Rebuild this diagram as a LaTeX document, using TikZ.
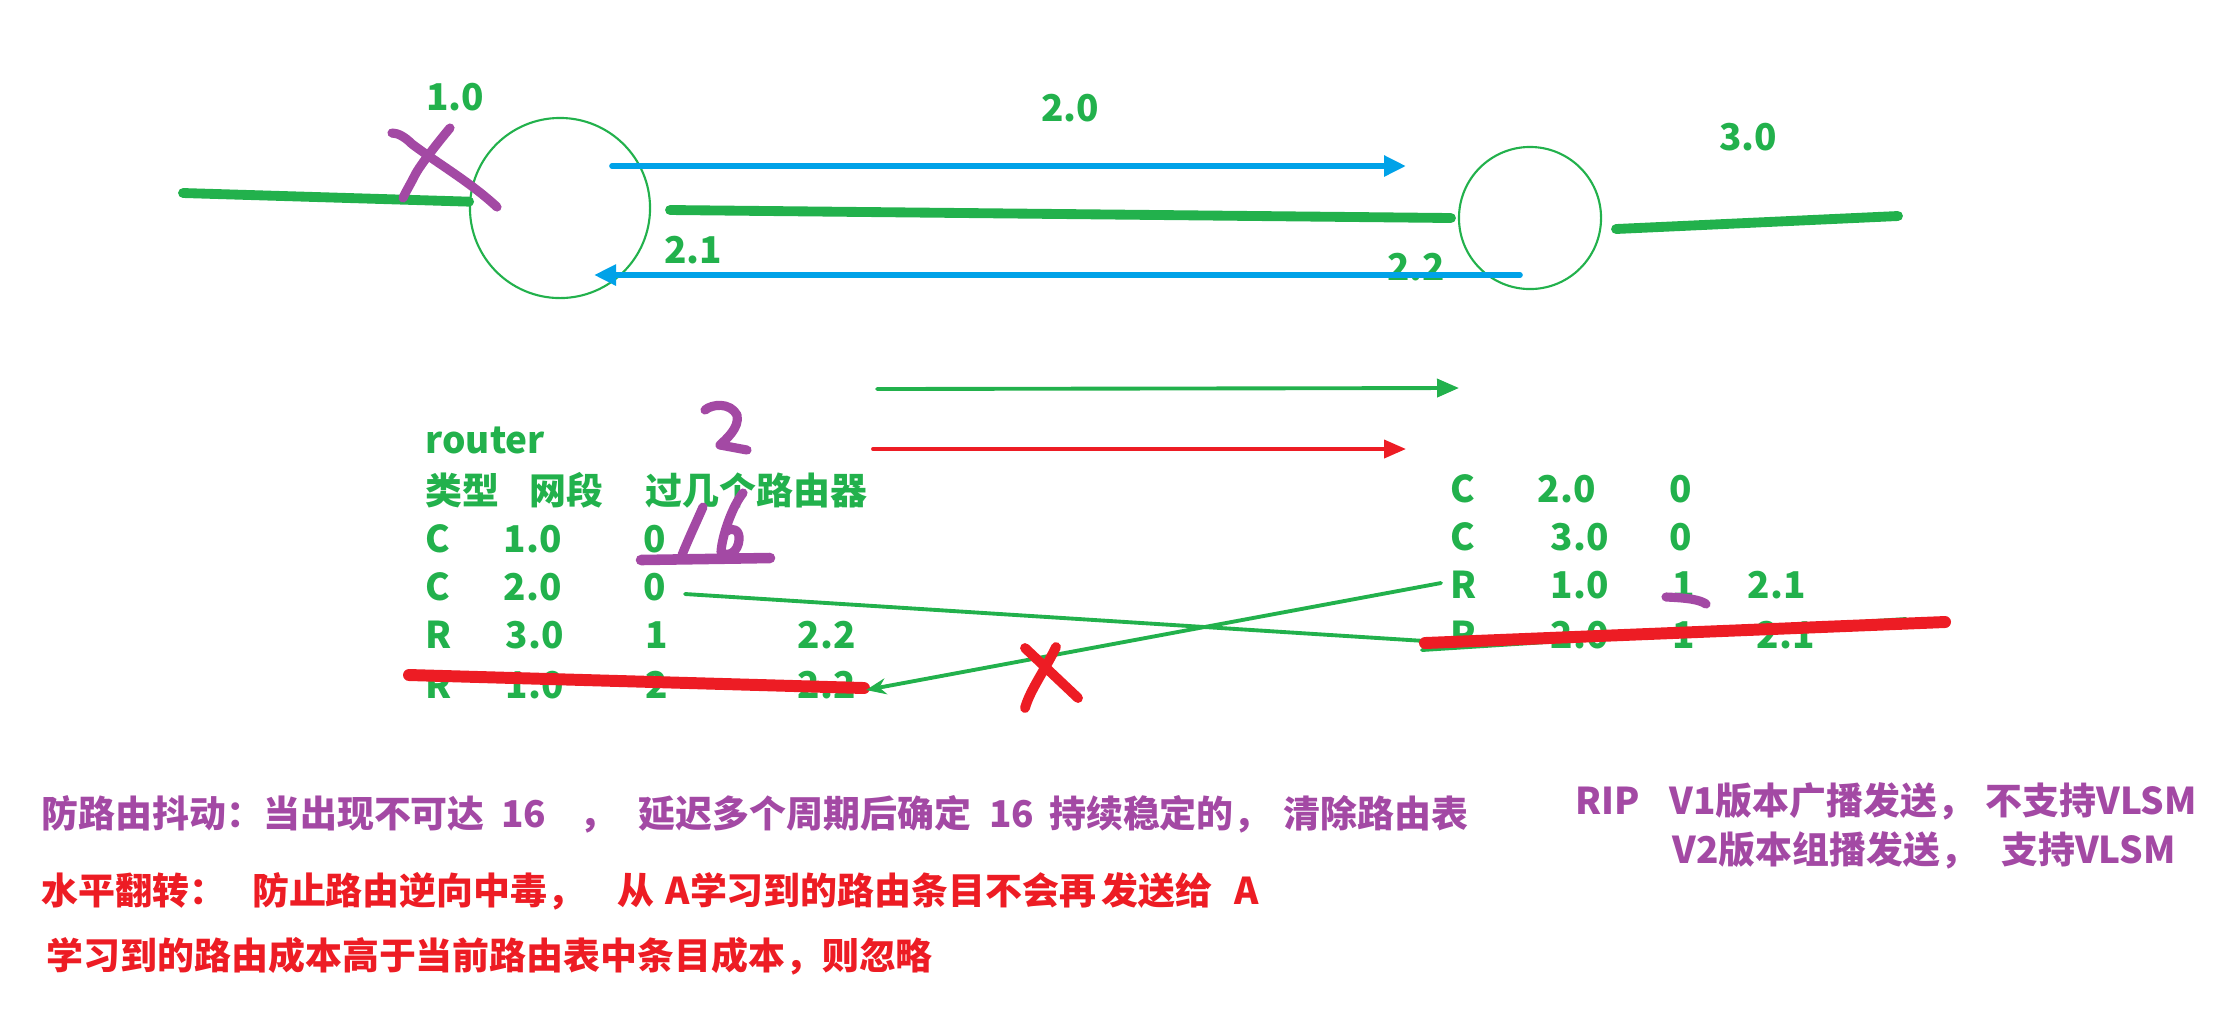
\documentclass[tikz,border=0pt]{standalone}
\usepackage{fontspec}
\setmainfont{Noto Sans CJK SC}
\usepackage{tikz}
\usetikzlibrary{arrows.meta,positioning,calc}

\definecolor{paintgreen}{RGB}{34,177,76}
\definecolor{paintblue}{RGB}{0,162,232}
\definecolor{paintred}{RGB}{237,28,36}
\definecolor{paintpurple}{RGB}{163,73,164}

\newcommand\txtsize{\bfseries\fontsize{10.5}{12}\selectfont}

\tikzset{
  router/.style={circle, draw=paintgreen, line width=0.6pt, inner sep=0pt},
  netline/.style={draw=paintgreen, line width=2.8pt, line cap=round},
  updarrow/.style={draw=paintblue, line width=1.6pt, line cap=round,
    -{Triangle[length=0.22cm,width=0.2cm]}},
  sendarrow/.style={line width=1.1pt, line cap=round,
    -{Triangle[length=0.22cm,width=0.18cm]}},
  tabtxt/.style={anchor=base west, inner sep=0pt, text=paintgreen, font=\txtsize},
  netlbl/.style={anchor=base, inner sep=0pt, text=paintgreen, font=\txtsize},
  remark/.style={anchor=base west, inner sep=0pt, font=\txtsize},
  scribble/.style={draw=paintpurple, line width=2.6pt, line cap=round, line join=round},
  strikeout/.style={draw=paintred, line width=3.4pt, line cap=round, line join=round}
}

\begin{document}
\begin{tikzpicture}[x=0.01cm, y=-0.01cm]
  \useasboundingbox (0,0) rectangle (2228,1008);

  % routers and networks
  \node[router, minimum size=1.8cm] (rA) at (560,208) {};
  \node[router, minimum size=1.42cm] (rB) at (1530,218) {};

  \coordinate (lanA) at (183,193);
  \coordinate (wanA) at (670,210);
  \coordinate (wanB) at (1451,218);
  \coordinate (lanB1) at (1616,229);
  \coordinate (lanB2) at (1898,216);
  \draw[netline] (lanA) -- (rA.176);
  \draw[netline] (wanA) -- (wanB);
  \draw[netline] (lanB1) -- (lanB2);

  \node[netlbl] (n10) at (455,110) {1.0};
  \node[netlbl] (n20) at (1070,121) {2.0};
  \node[netlbl] (n30) at (1748,150) {3.0};
  \node[netlbl] (n21) at (693,263) {2.1};
  \node[netlbl] (n22) at (1416,280) {2.2};

  % updates between the routers
  \coordinate (upA) at (612,166);
  \coordinate (upB) at (1406,166);
  \coordinate (downB) at (1520,275);
  \coordinate (downA) at (594,275);
  \draw[updarrow] (upA) -- (upB);
  \draw[updarrow] (downB) -- (downA);

  \coordinate (sendG1) at (877,389);
  \coordinate (sendG2) at (1459,388);
  \coordinate (sendR1) at (873,449);
  \coordinate (sendR2) at (1406,449);
  \draw[sendarrow, paintgreen] (sendG1) -- (sendG2);
  \draw[sendarrow, paintred] (sendR1) -- (sendR2);

  % table of router A
  \node[tabtxt] (aTitle) at (425,453) {router};
  \node[tabtxt] (aHd1) at (425,504) {类型};
  \node[tabtxt] (aHd2) at (529,504) {网段};
  \node[tabtxt] (aHd3) at (645,504) {过几个路由器};
  \node[tabtxt] (a1t) at (425,552) {C};
  \node[tabtxt] (a1n) at (503,552) {1.0};
  \node[tabtxt] (a1h) at (643,552) {0};
  \node[tabtxt] (a2t) at (425,600) {C};
  \node[tabtxt] (a2n) at (503,600) {2.0};
  \node[tabtxt] (a2h) at (643,600) {0};
  \node[tabtxt] (a3t) at (425,648) {R};
  \node[tabtxt] (a3n) at (505,648) {3.0};
  \node[tabtxt] (a3h) at (645,648) {1};
  \node[tabtxt] (a3g) at (797,648) {2.2};
  \node[tabtxt] (a4t) at (425,698) {R};
  \node[tabtxt] (a4n) at (505,698) {1.0};
  \node[tabtxt] (a4h) at (645,698) {2};
  \node[tabtxt] (a4g) at (797,698) {2.2};

  % table of router B
  \node[tabtxt] (b1t) at (1450,502) {C};
  \node[tabtxt] (b1n) at (1537,502) {2.0};
  \node[tabtxt] (b1h) at (1669,502) {0};
  \node[tabtxt] (b2t) at (1450,550) {C};
  \node[tabtxt] (b2n) at (1550,550) {3.0};
  \node[tabtxt] (b2h) at (1669,550) {0};
  \node[tabtxt] (b3t) at (1450,598) {R};
  \node[tabtxt] (b3n) at (1550,598) {1.0};
  \node[tabtxt] (b3h) at (1672,598) {1};
  \node[tabtxt] (b3g) at (1747,598) {2.1};
  \node[tabtxt] (b4t) at (1450,648) {R};
  \node[tabtxt] (b4n) at (1550,648) {2.0};
  \node[tabtxt] (b4h) at (1672,648) {1};
  \node[tabtxt] (b4g) at (1756,648) {2.1};

  % exchanged entries
  \coordinate (fromA) at (685,594);
  \coordinate (toB) at (1425,641);
  \coordinate (fromB) at (1441,583);
  \coordinate (toA) at (866,690);
  \coordinate (ulB1) at (1422,650);
  \coordinate (ulB2) at (1906,619);
  \draw[paintgreen, line width=1.1pt, line cap=round] (fromA) -- (toB);
  \draw[paintgreen, line width=1.1pt, line cap=round] (ulB1) -- (ulB2);
  \draw[strikeout] (409,675) -- (864,688);
  \draw[strikeout] (1425,643) -- (1945,622);
  \draw[paintgreen, line width=1.1pt, line cap=round,
    -{Stealth[length=0.2cm,width=0.16cm]}] (fromB) -- (toA);

  % hand marks
  \draw[scribble] (392,133) .. controls (398,133) and (405,137) .. (412,144)
    .. controls (440,165) and (470,182) .. (497,207);
  \draw[scribble] (450,128) .. controls (440,140) and (420,165) .. (415,175)
    .. controls (410,185) and (405,193) .. (403,198);
  \draw[scribble] (705,410) .. controls (712,404) and (730,402) .. (737,415)
    .. controls (740,428) and (725,440) .. (720,445) -- (747,450);
  \draw[scribble] (703,507) .. controls (695,525) and (688,540) .. (682,555);
  \draw[scribble] (743,493) .. controls (733,505) and (722,535) .. (721,552)
    .. controls (728,558) and (738,552) .. (739,540)
    .. controls (740,530) and (733,527) .. (727,531);
  \draw[scribble, line width=3pt] (641,560) -- (770,558);
  \draw[scribble] (1666,597) .. controls (1690,598) and (1700,600) .. (1706,604);
  \draw[strikeout, line width=2.8pt] (1025,648) -- (1078,698);
  \draw[strikeout, line width=2.8pt] (1056,647) .. controls (1045,670) and (1030,690) .. (1025,708);

  % notes
  \node[remark, text=paintpurple] (noteHold) at (41,827)
    {防路由抖动：当出现不可达\hspace{0.45em}16\hspace{0.9em}，\hspace{0.6em}延迟多个周期后确定\hspace{0.5em}16\hspace{0.4em}持续稳定的，\hspace{0.35em}清除路由表};
  \node[remark, text=paintred] (noteSplit) at (41,904)
    {水平翻转：\hspace{0.7em}防止路由逆向中毒，\hspace{0.9em}从\hspace{0.3em}A学习到的路由条目不会再\hspace{0.15em}发送给\hspace{0.6em}A};
  \node[remark, text=paintred] (noteCost) at (46,969)
    {学习到的路由成本高于当前路由表中条目成本，则忽略};
  \node[remark, text=paintpurple] (ripV1) at (1575,814)
    {RIP\hspace{0.8em}V1版本广播发送，\hspace{0.3em}不支持VLSM};
  \node[remark, text=paintpurple] (ripV2) at (1672,863)
    {V2版本组播发送，\hspace{0.65em}支持VLSM};
\end{tikzpicture}
\end{document}
